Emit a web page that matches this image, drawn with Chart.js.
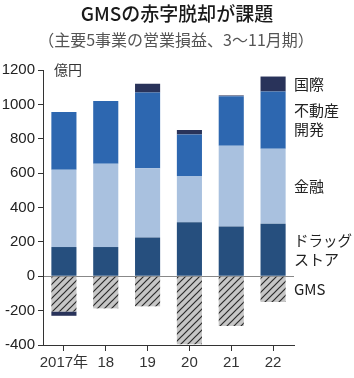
<!DOCTYPE html>
<html>
<head>
<meta charset="utf-8">
<script src="https://cdn.jsdelivr.net/npm/chart.js@4.4.0/dist/chart.umd.min.js"></script>
<style>
  html, body { margin: 0; padding: 0; background: #fff; }
  #wrap { width: 354px; height: 378px; position: relative; }
</style>
</head>
<body>
<div id="wrap"><canvas id="myChart" width="354" height="378"></canvas></div>
<script>
// years on the x axis
const years = ["2017年", "18", "19", "20", "21", "22"];
// operating profit by segment (億円)
const gms = [-205, -187, -175, -395, -290, -150];
const drugstore = [170, 170, 225, 314, 289, 305];
const finance = [450, 485, 403, 270, 470, 437];
const realEstate = [335, 365, 441, 241, 289, 333];
const international = [-25, 0, 51, 26, 4, 87];
const yTicks = [-400, -200, 0, 200, 400, 600, 800, 1000, 1200];

const numFont = "'Liberation Sans', 'Noto Sans CJK JP', sans-serif";
const jpFont = "'Noto Sans CJK JP', sans-serif";

// grey hatched fill for the GMS bars
function hatch() {
  const c = document.createElement('canvas');
  c.width = 7; c.height = 7;
  const g = c.getContext('2d');
  g.fillStyle = '#c6c6c6';
  g.fillRect(0, 0, 7, 7);
  g.strokeStyle = '#2b2b2b';
  g.lineWidth = 1.2;
  g.beginPath();
  g.moveTo(-1, 8); g.lineTo(8, -1);
  g.moveTo(-4, 4); g.lineTo(4, -4);
  g.moveTo(3, 11); g.lineTo(11, 3);
  g.stroke();
  return g.createPattern(c, 'repeat');
}

const chartCtx = document.getElementById('myChart').getContext('2d');

// titles, unit and the right-hand labels
const textPlugin = {
  id: 'texts',
  afterDraw(chart) {
    const c = chart.ctx;
    const y = chart.scales.y;
    const area = chart.chartArea;
    c.save();
    c.textAlign = 'center';
    c.textBaseline = 'middle';
    c.fillStyle = '#1a1a1a';
    c.font = "500 19px " + jpFont;
    c.fillText("GMSの赤字脱却が課題", 177, 14);
    c.fillStyle = '#555';
    c.font = "16px " + jpFont;
    c.fillText("（主要5事業の営業損益、3～11月期）", 176, 40);

    c.textAlign = 'left';
    c.fillStyle = '#333';
    c.font = "14px " + jpFont;
    c.fillText("億円", area.left + 11, y.getPixelForValue(1200));

    // labels next to the last bar, centred on its segments
    const last = years.length - 1;
    const x = area.right;
    const base = drugstore[last] + finance[last];
    const labels = [
      [["国際"], base + realEstate[last] + international[last] / 2],
      [["不動産", "開発"], base + realEstate[last] / 2],
      [["金融"], drugstore[last] + finance[last] / 2],
      [["ドラッグ", "ストア"], drugstore[last] / 2],
      [["GMS"], gms[last] / 2]
    ];
    c.fillStyle = '#222';
    c.font = "15px " + jpFont;
    labels.forEach(([lines, v]) => {
      const cy = y.getPixelForValue(v);
      lines.forEach((t, i) => {
        c.fillText(t, x, cy + (i - (lines.length - 1) / 2) * 19, chart.width - x - 2);
      });
    });
    c.restore();
  }
};

const myChart = new Chart(chartCtx, {
  type: 'bar',
  data: {
    labels: years,
    datasets: [
      { label: 'GMS', data: gms, backgroundColor: hatch() },
      { label: 'ドラッグストア', data: drugstore, backgroundColor: '#264f7e' },
      { label: '金融', data: finance, backgroundColor: '#a9c1df' },
      { label: '不動産開発', data: realEstate, backgroundColor: '#2d67b0' },
      { label: '国際', data: international, backgroundColor: '#29335a' }
    ]
  },
  options: {
    responsive: false,
    animation: false,
    categoryPercentage: 1,
    barPercentage: 0.6,
    layout: { padding: { top: 70, right: 60, left: 0, bottom: 0 } },
    plugins: { legend: { display: false }, tooltip: { enabled: false } },
    scales: {
      x: {
        stacked: true,
        afterFit(s) { s.height = 33; },
        grid: { offset: false, drawOnChartArea: false, tickLength: 6, tickColor: '#333' },
        border: { color: '#333' },
        ticks: { color: '#333', padding: 3, maxRotation: 0, autoSkip: false, font: { family: numFont, size: 15 } }
      },
      y: {
        stacked: true,
        min: -400,
        max: 1200,
        afterFit(s) { s.width = 43; },
        afterBuildTicks(s) { s.ticks = yTicks.map(v => ({ value: v })); },
        grid: {
          color: (c) => c.tick && c.tick.value === 0 ? '#888' : 'rgba(0,0,0,0)',
          tickLength: 5,
          tickColor: '#333'
        },
        border: { color: '#333' },
        ticks: { color: '#222', padding: 3, callback: (v) => String(v), font: { family: numFont, size: 15 } }
      }
    }
  },
  plugins: [textPlugin]
});
</script>
</body>
</html>
